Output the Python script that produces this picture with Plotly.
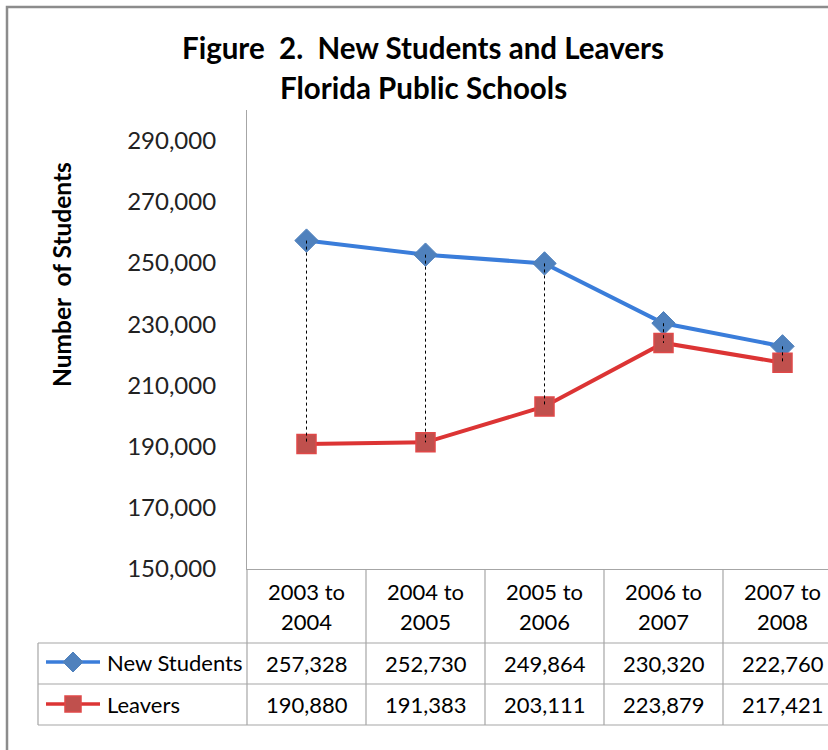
import plotly.graph_objects as go

categories_top = ["2003 to", "2004 to", "2005 to", "2006 to", "2007 to"]
categories_bottom = ["2004", "2005", "2006", "2007", "2008"]
new_students = [257328, 252730, 249864, 230320, 222760]
leavers = [190880, 191383, 203111, 223879, 217421]
y_ticks = [150000, 170000, 190000, 210000, 230000, 250000, 270000, 290000]

W, H = 828, 750
PL, PR, PT, PB = 247, 828, 110, 569   # plot area in pixels
CAT_W = 119.0
x_min = -0.5
x_max = x_min + (PR - PL) / CAT_W
y_min, y_max = 150000, 300000

def px(xp):
    return (xp - PL) / (PR - PL)

def py(yp):
    return (PB - yp) / (PB - PT)

BLUE_LINE = "#3A7DDA"
BLUE_MK = "#4F81BD"
RED_LINE = "#DC3434"
RED_MK = "#C0504D"
GRID = "#A6A6A6"
FONT = "Lato"

xs = list(range(len(new_students)))
fig = go.Figure()
fig.add_trace(go.Scatter(x=xs, y=new_students, mode="lines+markers",
                         line=dict(color=BLUE_LINE, width=4),
                         marker=dict(symbol="diamond", size=18, color=BLUE_MK,
                                     line=dict(color=BLUE_MK, width=1)),
                         showlegend=False, cliponaxis=False))
fig.add_trace(go.Scatter(x=xs, y=leavers, mode="lines+markers",
                         line=dict(color=RED_LINE, width=4),
                         marker=dict(symbol="square", size=19, color=RED_MK,
                                     line=dict(color="#E04848", width=1.5)),
                         showlegend=False, cliponaxis=False))
# drop lines
dx, dy = [], []
for i in xs:
    dx += [i, i, None]
    dy += [new_students[i], leavers[i], None]
fig.add_trace(go.Scatter(x=dx, y=dy, mode="lines",
                         line=dict(color="black", width=1, dash="dot"),
                         showlegend=False, cliponaxis=False))

shapes = []
# outer border
shapes.append(dict(type="rect", xref="paper", yref="paper",
                   x0=px(7), x1=px(900), y0=py(800), y1=py(7),
                   line=dict(color="#8C8C8C", width=2.5)))
# table lines
for yy in [643, 684, 725]:
    shapes.append(dict(type="line", xref="paper", yref="paper",
                       x0=px(38), x1=px(900), y0=py(yy), y1=py(yy),
                       line=dict(color=GRID, width=1.2)))
shapes.append(dict(type="line", xref="paper", yref="paper",
                   x0=px(38), x1=px(38), y0=py(643), y1=py(725),
                   line=dict(color=GRID, width=1.2)))
for k in range(len(xs) + 1):
    xb = PL + k * CAT_W
    shapes.append(dict(type="line", xref="paper", yref="paper",
                       x0=px(xb), x1=px(xb), y0=py(PB), y1=py(725),
                       line=dict(color=GRID, width=1.2)))

# legend keys
def key(yc, color, mkcolor, symbol, edge):
    shapes.append(dict(type="line", xref="paper", yref="paper",
                       x0=px(46), x1=px(100), y0=py(yc), y1=py(yc),
                       line=dict(color=color, width=3.5)))
    if symbol == "diamond":
        r = 10
        path = "M {a},{b} L {c},{d} L {e},{f} L {g},{h} Z".format(
            a=px(73 - r), b=py(yc), c=px(73), d=py(yc - r),
            e=px(73 + r), f=py(yc), g=px(73), h=py(yc + r))
        shapes.append(dict(type="path", xref="paper", yref="paper", path=path,
                           fillcolor=mkcolor, line=dict(color=mkcolor, width=1)))
    else:
        r = 8
        shapes.append(dict(type="rect", xref="paper", yref="paper",
                           x0=px(73 - r), x1=px(73 + r), y0=py(yc + r), y1=py(yc - r),
                           fillcolor=mkcolor, line=dict(color=edge, width=1.5)))

key(662, BLUE_LINE, BLUE_MK, "diamond", BLUE_MK)
key(704, RED_LINE, RED_MK, "square", "#E04848")

ann = []
ann.append(dict(text="<b>Figure&nbsp; 2.&nbsp; New Students and Leavers</b>", xref="paper", yref="paper",
                x=px(423), y=py(48), showarrow=False, xanchor="center", yanchor="middle",
                font=dict(family=FONT, size=29.5, color="black")))
ann.append(dict(text="<b>Florida Public Schools</b>", xref="paper", yref="paper",
                x=px(423), y=py(87), showarrow=False, xanchor="center", yanchor="middle",
                font=dict(family=FONT, size=29.5, color="black")))
ann.append(dict(text="<b>Number&nbsp; of Students</b>", xref="paper", yref="paper",
                x=px(61), y=py(275), showarrow=False, textangle=-90,
                xanchor="center", yanchor="middle",
                font=dict(family=FONT, size=24.5, color="black")))
tfont = dict(family=FONT, size=22, color="black")
for i in xs:
    ann.append(dict(text=categories_top[i], xref="x", yref="paper", x=i, y=py(591),
                    showarrow=False, xanchor="center", yanchor="middle", font=tfont))
    ann.append(dict(text=categories_bottom[i], xref="x", yref="paper", x=i, y=py(621),
                    showarrow=False, xanchor="center", yanchor="middle", font=tfont))
    ann.append(dict(text=f"{new_students[i]:,}", xref="x", yref="paper", x=i, y=py(663),
                    showarrow=False, xanchor="center", yanchor="middle", font=tfont))
    ann.append(dict(text=f"{leavers[i]:,}", xref="x", yref="paper", x=i, y=py(704),
                    showarrow=False, xanchor="center", yanchor="middle", font=tfont))
ann.append(dict(text="New Students", xref="paper", yref="paper", x=px(105), y=py(662),
                showarrow=False, xanchor="left", yanchor="middle", font=tfont))
ann.append(dict(text="Leavers", xref="paper", yref="paper", x=px(105), y=py(704),
                showarrow=False, xanchor="left", yanchor="middle", font=tfont))

fig.update_layout(
    width=W, height=H,
    margin=dict(l=PL, r=W - PR, t=PT, b=H - PB, pad=0),
    paper_bgcolor="white", plot_bgcolor="white",
    shapes=shapes, annotations=ann, showlegend=False,
    xaxis=dict(range=[x_min, x_max], showgrid=False, zeroline=False,
               showticklabels=False, ticks="", showline=True, linecolor=GRID, linewidth=1.2,
               fixedrange=True),
    yaxis=dict(range=[y_min, y_max], tickvals=y_ticks,
               ticktext=[f"{v:,}" for v in y_ticks],
               showgrid=False, zeroline=False, showline=True, linecolor=GRID, linewidth=1.2,
               ticks="", ticklabelstandoff=25,
               tickfont=dict(family=FONT, size=24, color="#222222"), fixedrange=True),
)

fig.write_html("out.html", config={"displayModeBar": False},
               post_script="document.body.style.margin='0';document.body.style.overflow='hidden';")
